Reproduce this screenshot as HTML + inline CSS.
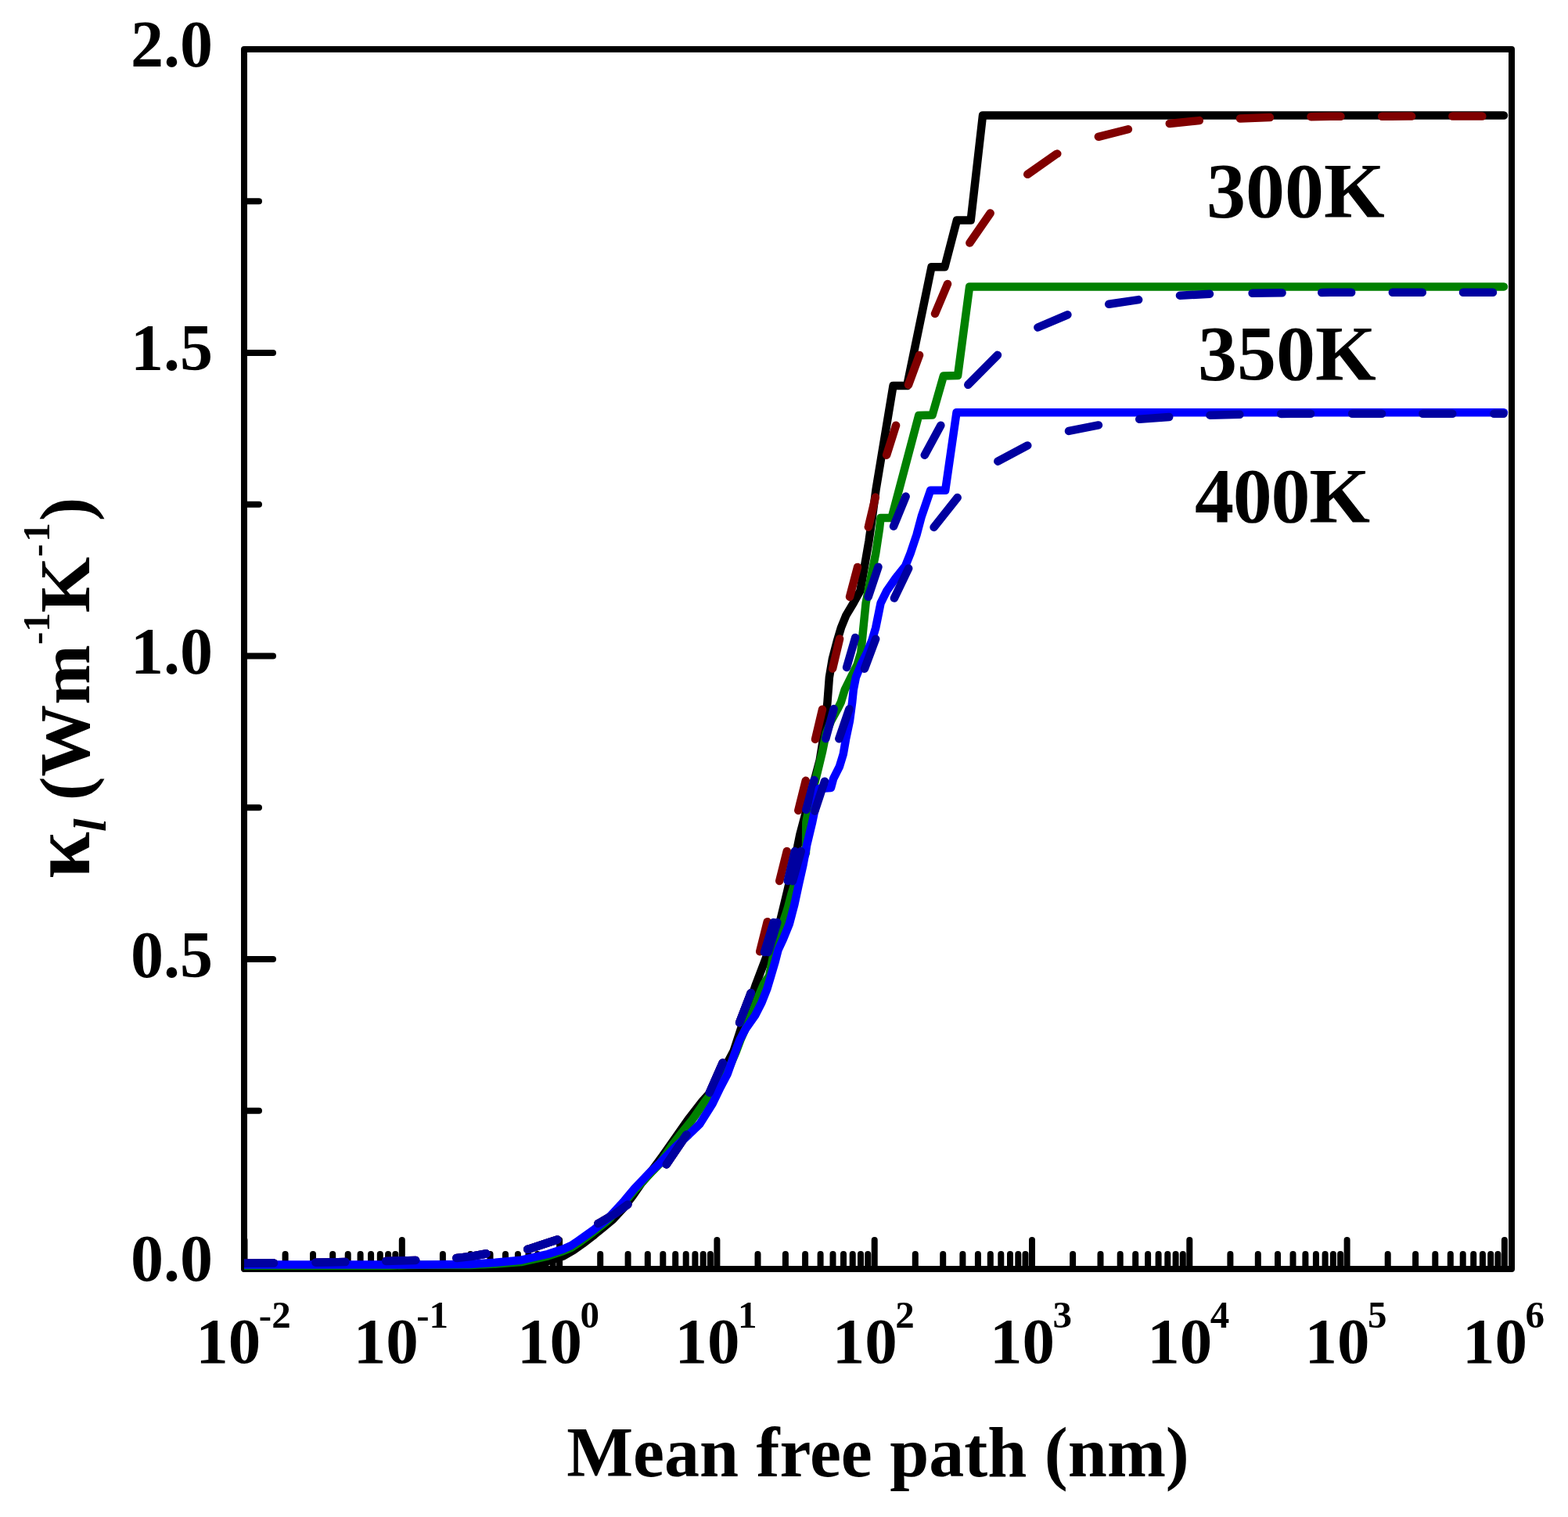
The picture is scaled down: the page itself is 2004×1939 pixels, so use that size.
<!DOCTYPE html><html><head><meta charset="utf-8"><title>Mean free path plot</title>
<style>html,body{margin:0;padding:0;background:#fff;}svg{display:block;}text{font-family:"Liberation Serif","Times New Roman",serif;font-weight:bold;fill:#000;}</style></head><body>
<svg width="2004" height="1939" viewBox="0 0 2004 1939">
<rect width="2004" height="1939" fill="#fff"/>
<path d="M312.5 1622V1585M513.8 1622V1585M715.1 1622V1585M916.4 1622V1585M1117.7 1622V1585M1319 1622V1585M1520.3 1622V1585M1721.6 1622V1585M1922.9 1622V1585M364.6 1622V1603M400 1622V1603M425.2 1622V1603M444.7 1622V1603M460.6 1622V1603M474.1 1622V1603M485.8 1622V1603M496.1 1622V1603M505.3 1622V1603M565.9 1622V1603M601.3 1622V1603M626.5 1622V1603M646 1622V1603M661.9 1622V1603M675.4 1622V1603M687.1 1622V1603M697.4 1622V1603M706.6 1622V1603M767.2 1622V1603M802.6 1622V1603M827.8 1622V1603M847.3 1622V1603M863.2 1622V1603M876.7 1622V1603M888.4 1622V1603M898.7 1622V1603M907.9 1622V1603M968.5 1622V1603M1003.9 1622V1603M1029.1 1622V1603M1048.6 1622V1603M1064.5 1622V1603M1078 1622V1603M1089.7 1622V1603M1100 1622V1603M1109.2 1622V1603M1169.8 1622V1603M1205.2 1622V1603M1230.4 1622V1603M1249.9 1622V1603M1265.8 1622V1603M1279.3 1622V1603M1291 1622V1603M1301.3 1622V1603M1310.5 1622V1603M1371.1 1622V1603M1406.5 1622V1603M1431.7 1622V1603M1451.2 1622V1603M1467.1 1622V1603M1480.6 1622V1603M1492.3 1622V1603M1502.6 1622V1603M1511.8 1622V1603M1572.4 1622V1603M1607.8 1622V1603M1633 1622V1603M1652.5 1622V1603M1668.4 1622V1603M1681.9 1622V1603M1693.6 1622V1603M1703.9 1622V1603M1713.1 1622V1603M1773.7 1622V1603M1809.1 1622V1603M1834.3 1622V1603M1853.8 1622V1603M1869.7 1622V1603M1883.2 1622V1603M1894.9 1622V1603M1905.2 1622V1603M1914.4 1622V1603M312 1419.8H331M312 1226H349M312 1032.2H331M312 838.5H349M312 644.8H331M312 451H349M312 257.2H331" stroke="#000" stroke-width="8" stroke-linecap="round" fill="none"/>
<rect x="312" y="63" width="1620" height="1559" fill="none" stroke="#000" stroke-width="8" stroke-linejoin="round"/>
<defs><clipPath id="cp"><rect x="312" y="0" width="1700" height="1939"/></clipPath></defs><g clip-path="url(#cp)">
<polyline points="312,1619 600,1619 650,1617.5 700,1612 720,1605.5 733,1598 745,1589.5 758,1579.6 771,1569 783.3,1558.8 796,1545 808.6,1528.6 820,1512 830.8,1499.4 847,1477.3 863.4,1454 879.5,1430.9 897.5,1407.7 906,1398.4 920,1375 931,1356 937.5,1343.8 947,1314.8 956,1288 965.4,1260.2 979.8,1222.2 981.3,1216.9 997.1,1177.3 1006.6,1137.8 1019.2,1082.4 1022.4,1066.6 1028.7,1042.8 1038,1008 1047.7,971.6 1050.4,955 1054.4,929 1057.5,897.3 1059.9,865.7 1063.9,842 1070.2,818.2 1074.9,802.4 1081.3,786.6 1090.8,770.8 1099.5,754.9 1105,723.3 1110.5,691.6 1115,660 1119.6,625.3 1141.5,493.1 1159.2,493.1 1190.5,341.3 1207.4,341.3 1222.9,281.6 1240.7,281.6 1256,147.5 1922,147.5" fill="none" stroke="#000" stroke-width="10.5" stroke-linejoin="round" stroke-linecap="round"/>
<polyline points="312,1614.8 355,1614.5 422,1613.5 512,1611.5 550,1610.3 584,1608 602,1606 621,1602.5 650,1600 676,1596.5 700,1588.5 715.3,1583.5 740,1573 763.3,1564.7 785,1552 804.1,1538.2 830,1512 851.2,1489 878.1,1449.4 893,1422 906.6,1397.2 924,1357.7 935,1333 944.6,1308.6 960.4,1267.5 971,1217 981,1177 996,1127 1006,1087 1020,1037 1030,997 1042,945 1051,907 1064,855 1073,817 1086,763 1096,725 1110,673 1119,635 1133,582 1145,544 1161,492 1175,454 1195,401 1211,363 1239,311 1266,272 1290,245 1313,223 1350,197 1403,175 1443,165 1494,158 1534,154 1584,151.6 1625,150 1700,148.8 1800,148.6 1922,148.5" fill="none" stroke="#800000" stroke-width="10.5" stroke-linejoin="round" stroke-linecap="round" stroke-dasharray="38 53.4 38 51.8 38 52.4 38.4 53.2 40 55.9 45.3 71.2 45.9 61.3 41.5 55.7 40.7 54.2 39.2 54.4 39.2 54.1 39.2 54.4 39.1 53.8 39.1 55.2 39.3 53.1 39.1 55.8 39.8 54.2 40.5 56.6 41.2 59.7 46.2 68.8 46.3 56.9 39.2 53.4 38.2 52.3 38 52.5 38 52.7 38 52.2 38 227.6" stroke-dashoffset="0"/>
<polyline points="312,1617.8 497,1617.8 520,1617 540,1616.8 600,1617 633,1615.5 666,1613 700,1605.5 720,1599 730,1595 739,1589 758,1575 777,1560 796,1539.5 811,1521.5 831,1500 843,1487.5 859,1464 872,1447 885,1431 901,1408 918,1386 930.5,1368 940.5,1345 946.5,1329 954,1312 962,1293 970,1272 976,1258 983,1247.5 989,1218 1000.5,1180 1006.6,1161.5 1011.3,1143.3 1020,1115 1030,1090 1030.3,1050.8 1036.6,1019.1 1044.6,987.5 1051.2,960 1055.9,936.9 1062.3,921.1 1070.2,906.8 1074.9,897.3 1079.7,881.5 1087.6,865.7 1095.5,849.9 1100.3,834 1103.4,802.4 1106.6,770.8 1112.9,739.1 1119.2,707.5 1124,675.8 1125.5,662 1139.5,662 1174.2,531 1191.6,530.5 1205.9,480.5 1224.1,480 1239.1,366.4 1922,366.4" fill="none" stroke="#008000" stroke-width="10.5" stroke-linejoin="round" stroke-linecap="round"/>
<polyline points="312,1614.8 355,1614.5 422,1613.5 512,1611.5 550,1610.3 584,1608 602,1606 621,1602.5 650,1600 676,1596.5 700,1588.5 715.3,1583.5 740,1573 763.3,1564.7 785,1552 804.1,1538.2 830,1512 851.2,1489 878.1,1449.4 893,1422 906.6,1397.2 924,1357.7 935,1333 944.6,1308.6 960.4,1267.5 976.5,1218.5 989.2,1177.3 1006.6,1126.7 1016.1,1087.2 1030.3,1034.9 1040.6,997 1055.6,943.2 1065.4,906.8 1082.1,853 1093.1,815.1 1109.7,762.8 1122.4,724.9 1142,672.7 1157.6,634.7 1181.3,582.5 1202.7,543 1237.3,491.8 1274.8,454 1300,433 1326,418.7 1364.7,402.2 1415.7,389 1456.5,382.9 1506.5,377.8 1547.3,375.7 1597.3,374.7 1700,373.8 1922,373.8" fill="none" stroke="#0000a0" stroke-width="10.5" stroke-linejoin="round" stroke-linecap="round" stroke-dasharray="38 53.4 38 51.8 38 52.4 38.4 53.2 40 55.9 45.3 71.2 45.9 61.3 41.5 55.7 40.7 54.9 39.8 56 39.1 54.9 39.4 54.9 39.4 55.5 39.6 54.8 40.1 55.7 41.1 58.2 43.2 62.5 53.5 62.7 41.3 54.5 38.4 53.1 38.1 54.6 38 50.6 38 52.6 38 52.2 38 214.2" stroke-dashoffset="0"/>
<polyline points="312,1616.5 540,1616.6 600,1616 633,1613.8 666,1610.7 700,1603 720,1596.5 730,1592 739,1586 758,1572.5 777,1557.5 796,1537 811,1519 831,1498 843,1487 863.6,1465.7 880,1450.6 894.3,1436.7 910.5,1411 920.5,1390.2 929.7,1372.8 939.5,1345 945.5,1329 953,1315 965,1298 973.5,1281.3 980.2,1264.4 985.3,1247.5 990.3,1230.6 994.6,1214 1001.1,1200 1008.7,1181.3 1015.4,1155.9 1020.8,1130.6 1026.5,1105.3 1031.2,1080 1038.2,1050.8 1047,1008 1062,1007 1065.1,995.4 1073,979.6 1077.8,963.7 1081,945 1086,921.1 1089.2,897.3 1090.8,881.5 1093.9,865.7 1100.3,849.9 1108.2,834 1114.5,818.2 1119.2,802.4 1122.4,786.6 1125.6,770.8 1133.5,754.9 1144.6,739.1 1157.2,723.3 1163.5,707.5 1171.5,683.7 1177.8,660 1189.2,626.8 1208.2,626.8 1222.5,527.3 1922,527.3" fill="none" stroke="#0000ff" stroke-width="10.5" stroke-linejoin="round" stroke-linecap="round"/>
<polyline points="312,1614.8 355,1614.5 422,1613.5 512,1611.5 550,1610.3 584,1608 602,1606 621,1602.5 650,1600 676,1596.5 700,1588.5 715.3,1583.5 740,1573 763.3,1564.7 785,1552 804.1,1538.2 830,1512 851.2,1489 878.1,1449.4 893,1422 906.6,1397.2 924,1357.7 935,1333 944.6,1308.6 960.4,1267.5 981.3,1218.5 993.9,1177.3 1012.9,1126.7 1024,1087.2 1041.4,1036.5 1054,998.5 1072.2,944.7 1085.2,906.8 1105,854.6 1119.2,816.6 1143,764.4 1161.2,726.5 1193.4,674.2 1224.1,635.5 1250,610 1274.3,590.2 1314.5,568.8 1364.7,551.2 1405.5,543.1 1455.5,535.9 1495.3,532.9 1545.3,530.8 1586.1,529.8 1650,528.7 1922,528.7" fill="none" stroke="#0000a0" stroke-width="10.5" stroke-linejoin="round" stroke-linecap="round" stroke-dasharray="38 53.4 38 51.8 38 52.4 38.4 53.2 40 55.9 45.3 71.2 45.9 61.3 41.5 55.7 40.7 56.6 39.7 56.5 39.5 54.4 40 57.4 40.2 55.1 40.6 57.3 42.2 61.7 48.5 69.5 43 55.9 38.7 52.8 38.1 52.3 38 52.7 38 53 38 52.2 38 53 12.3 200" stroke-dashoffset="0"/>
</g>
<text x="272" y="85" font-size="84" text-anchor="end">2.0</text>
<text x="272" y="473" font-size="84" text-anchor="end">1.5</text>
<text x="272" y="861" font-size="84" text-anchor="end">1.0</text>
<text x="272" y="1249" font-size="84" text-anchor="end">0.5</text>
<text x="272" y="1637" font-size="84" text-anchor="end">0.0</text>
<text x="311" y="1742" font-size="83" text-anchor="middle">10<tspan font-size="49" dx="-2.5" dy="-45">-2</tspan></text>
<text x="512.3" y="1742" font-size="83" text-anchor="middle">10<tspan font-size="49" dx="-2.5" dy="-45">-1</tspan></text>
<text x="713.6" y="1742" font-size="83" text-anchor="middle">10<tspan font-size="49" dx="-2.5" dy="-45">0</tspan></text>
<text x="914.9" y="1742" font-size="83" text-anchor="middle">10<tspan font-size="49" dx="-2.5" dy="-45">1</tspan></text>
<text x="1116.2" y="1742" font-size="83" text-anchor="middle">10<tspan font-size="49" dx="-2.5" dy="-45">2</tspan></text>
<text x="1317.5" y="1742" font-size="83" text-anchor="middle">10<tspan font-size="49" dx="-2.5" dy="-45">3</tspan></text>
<text x="1518.8" y="1742" font-size="83" text-anchor="middle">10<tspan font-size="49" dx="-2.5" dy="-45">4</tspan></text>
<text x="1720.1" y="1742" font-size="83" text-anchor="middle">10<tspan font-size="49" dx="-2.5" dy="-45">5</tspan></text>
<text x="1921.4" y="1742" font-size="83" text-anchor="middle">10<tspan font-size="49" dx="-2.5" dy="-45">6</tspan></text>
<text x="1122" y="1887" font-size="90" text-anchor="middle">Mean free path (nm)</text>
<text transform="translate(114 1123) rotate(-90)" font-size="92"><tspan font-size="108">κ</tspan><tspan font-size="60" font-style="italic" dy="21">l</tspan><tspan dy="-21"> (Wm</tspan><tspan font-size="49" dy="-51">-1</tspan><tspan dy="51">K</tspan><tspan font-size="49" dy="-51">-</tspan><tspan font-size="49" dx="2.5">1</tspan><tspan dx="2" dy="51">)</tspan></text>
<text x="1542" y="277" font-size="100">300K</text>
<text x="1531" y="485" font-size="100">350K</text>
<text x="1527" y="666.5" font-size="100" textLength="224" lengthAdjust="spacing">400K</text>
</svg></body></html>
